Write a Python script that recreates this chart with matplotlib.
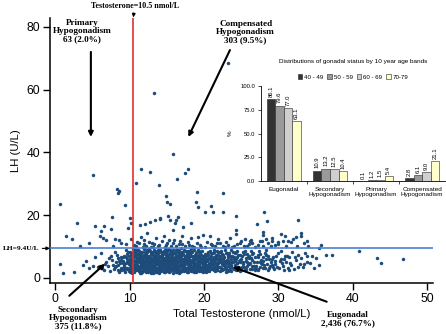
import matplotlib
matplotlib.use("Agg")
import matplotlib.pyplot as plt
import numpy as np

# total testosterone (nmol/L) vs LH (U/L), one pair per man: "tt lh"
cloud = """
6.3 3.1 6.7 4.4 6.5 2.6 6.9 5.2
7.1 3.8 7.4 2.2 7.6 5.6 7.8 4.1 7.3 6.3 7.9 2.9 7.5 7.1
8.0 3.4 8.2 5.0 8.4 2.4 8.5 6.2 8.7 4.6 8.9 3.0 8.3 7.4 8.6 1.9 8.8 5.7 8.1 8.3 8.4 4.0 8.9 6.8
9.0 2.7 9.1 5.3 9.2 3.9 9.3 7.0 9.4 1.8 9.5 4.8 9.6 6.1 9.7 3.2 9.8 8.1 9.9 2.3 9.1 6.7 9.3 4.3
9.5 8.8 9.6 2.9 9.8 5.5 9.2 3.6 9.7 7.6 9.9 4.5
10.0 3.3 10.1 6.0 10.2 2.1 10.3 4.7 10.4 7.8 10.5 3.0 10.6 5.4 10.7 8.9 10.8 2.5 10.9 6.6 10.1 4.2
10.2 7.2 10.3 1.7 10.4 5.8 10.6 3.7 10.7 6.9 10.8 4.9 10.9 2.9 10.0 8.4 10.5 9.1 10.6 1.9 10.3 3.6
10.8 7.5 10.9 5.1
11.0 4.0 11.1 2.4 11.2 6.3 11.3 8.6 11.4 3.1 11.5 5.0 11.6 7.4 11.7 1.8 11.8 4.5 11.9 6.8 11.0 9.0
11.1 5.6 11.2 2.8 11.3 4.9 11.4 7.9 11.5 3.5 11.6 6.0 11.7 8.3 11.8 2.2 11.9 3.9 11.2 5.3 11.4 1.6
11.6 4.3 11.8 7.1 11.1 3.3 11.3 6.5 11.7 5.8 11.9 9.2
12.0 2.6 12.1 5.1 12.2 7.7 12.3 3.4 12.4 6.2 12.5 1.9 12.6 4.4 12.7 8.5 12.8 2.9 12.9 5.9 12.0 6.9
12.1 3.0 12.2 4.7 12.3 8.9 12.4 2.3 12.5 5.5 12.6 7.1 12.7 3.8 12.8 6.6 12.9 1.7 12.1 8.1 12.3 5.7
12.5 3.6 12.7 4.9 12.9 7.5 12.2 2.0 12.4 4.1 12.6 9.1 12.8 5.0 12.0 4.3
13.0 5.6 13.1 2.2 13.2 7.3 13.3 4.0 13.4 8.7 13.5 3.2 13.6 6.4 13.7 1.8 13.8 4.8 13.9 7.0 13.0 3.5
13.1 6.1 13.2 2.7 13.3 5.2 13.4 4.4 13.5 8.0 13.6 2.5 13.7 5.9 13.8 7.8 13.9 3.7 13.1 4.6 13.3 9.0
13.5 6.8 13.7 3.0 13.9 5.4 13.2 1.6 13.4 6.0 13.6 8.4 13.8 2.1 13.0 7.6
14.0 3.9 14.1 6.7 14.2 2.3 14.3 5.3 14.4 8.2 14.5 4.1 14.6 1.9 14.7 6.3 14.8 3.4 14.9 7.4 14.0 5.0
14.1 8.9 14.2 4.5 14.3 2.8 14.4 6.0 14.5 7.7 14.6 3.1 14.7 5.6 14.8 9.0 14.9 2.5 14.1 4.2 14.3 7.1
14.5 5.8 14.7 2.0 14.9 4.8 14.2 6.5 14.4 3.6 14.6 8.5 14.8 5.2 14.0 1.7
15.0 4.7 15.1 2.1 15.2 6.9 15.3 3.5 15.4 8.0 15.5 5.4 15.6 2.7 15.7 7.2 15.8 4.0 15.9 6.1 15.0 8.6
15.1 3.8 15.2 5.1 15.3 1.8 15.4 4.4 15.5 7.6 15.6 3.0 15.7 5.7 15.8 8.8 15.9 2.4 15.1 6.4 15.3 4.9
15.5 2.2 15.7 3.3 15.9 7.9 15.2 9.1 15.4 6.2 15.6 4.6 15.8 1.6 15.0 5.9
16.0 3.2 16.1 6.6 16.2 4.3 16.3 8.4 16.4 2.0 16.5 5.5 16.6 7.3 16.7 3.7 16.8 6.0 16.9 2.6 16.0 7.9
16.1 4.8 16.2 1.9 16.3 5.9 16.4 3.9 16.5 8.9 16.6 2.4 16.7 6.7 16.8 4.5 16.9 5.2 16.2 7.0 16.4 6.3
16.6 3.4 16.8 8.2 16.1 2.8 16.3 4.1 16.7 1.7 16.9 7.6
17.0 5.1 17.1 2.5 17.2 7.7 17.3 4.2 17.4 6.4 17.5 3.0 17.6 8.6 17.7 4.9 17.8 1.9 17.9 6.1 17.0 3.6
17.1 8.1 17.2 5.6 17.3 2.2 17.4 4.6 17.5 7.1 17.6 3.3 17.7 6.8 17.8 5.3 17.9 2.8 17.1 4.0 17.3 9.0
17.5 5.8 17.7 2.0 17.9 7.4 17.2 3.9 17.6 6.2 17.8 4.4
18.0 6.5 18.1 3.1 18.2 5.0 18.3 8.3 18.4 2.3 18.5 4.7 18.6 7.0 18.7 3.8 18.8 5.9 18.9 2.0 18.0 4.1
18.1 7.6 18.2 2.7 18.3 5.4 18.4 6.9 18.5 3.4 18.6 8.8 18.7 4.5 18.8 2.5 18.9 6.3 18.2 9.1 18.4 4.9
18.6 1.8 18.8 7.3 18.1 5.7 18.9 3.7
19.0 2.9 19.1 5.8 19.2 4.0 19.3 7.4 19.4 2.2 19.5 6.1 19.6 3.5 19.7 8.5 19.8 4.7 19.9 1.9 19.0 6.8
19.1 3.2 19.2 5.2 19.3 2.6 19.4 4.4 19.5 7.9 19.6 5.5 19.7 3.0 19.8 6.4 19.9 4.2 19.2 8.9 19.4 3.8
19.6 2.1 19.8 5.0
20.0 4.6 20.1 7.1 20.2 2.4 20.3 5.6 20.4 3.3 20.5 8.2 20.6 4.1 20.7 6.2 20.8 2.8 20.9 5.0 20.0 3.0
20.1 6.6 20.2 4.9 20.3 1.8 20.4 7.5 20.5 3.7 20.6 5.9 20.7 2.2 20.8 8.7 20.9 4.3 20.3 6.9 20.7 3.9
21.0 5.3 21.1 2.7 21.2 7.8 21.3 3.9 21.4 6.0 21.5 2.1 21.6 4.8 21.7 8.5 21.8 3.3 21.9 5.7 21.1 4.3
21.3 6.7 21.5 3.6 21.7 2.4 21.9 7.2 21.2 5.1 21.4 9.0 21.6 2.9 21.8 6.3 21.0 4.0
22.0 3.4 22.1 6.2 22.2 2.3 22.3 5.0 22.4 7.6 22.5 4.2 22.6 2.7 22.7 6.8 22.8 3.9 22.9 5.5 22.1 8.4
22.3 3.1 22.5 5.9 22.7 4.5 22.9 2.0 22.2 7.0 22.6 4.9 22.8 8.9
23.0 4.7 23.1 2.6 23.2 6.5 23.3 3.7 23.4 8.0 23.5 5.2 23.6 2.2 23.7 4.1 23.8 6.9 23.9 3.3 23.1 5.6
23.3 7.3 23.5 3.0 23.7 8.8 23.9 5.0 23.4 4.4
24.0 3.1 24.1 5.9 24.2 7.9 24.3 2.5 24.4 4.6 24.5 6.6 24.6 3.6 24.7 5.3 24.8 2.2 24.9 7.2 24.2 4.0
24.5 8.6 24.7 3.0 24.9 5.0
25.0 6.0 25.1 3.4 25.3 4.8 25.4 7.5 25.5 2.6 25.6 5.5 25.8 3.9 25.9 6.8 25.2 8.3 25.7 2.9 25.3 4.3
25.8 5.2
26.0 4.5 26.2 2.8 26.3 6.3 26.5 3.7 26.6 8.0 26.7 5.1 26.9 3.2 26.1 7.0 26.4 5.8 26.8 2.4
27.0 3.9 27.2 6.5 27.3 2.7 27.5 5.0 27.6 7.7 27.8 4.3 27.9 3.1 27.4 8.6 27.7 5.6
28.0 5.3 28.2 3.0 28.3 7.2 28.5 4.4 28.6 2.5 28.8 6.0 28.9 3.8 28.4 8.9
29.1 4.0 29.3 6.8 29.4 2.9 29.6 5.4 29.8 3.5 29.9 7.9 29.2 5.9
30.1 3.3 30.3 6.1 30.5 4.6 30.7 2.4 30.9 7.0 30.4 8.5
31.0 5.0 31.3 3.2 31.5 6.6 31.7 4.1 31.9 8.2
32.1 2.8 32.4 5.7 32.6 7.4 32.9 4.4
33.1 6.3 33.3 3.6 33.6 8.0 33.8 5.0
34.2 4.7 34.5 7.1 34.8 3.0
35.1 6.4 35.4 4.2
"""

# second pass over the crowded 8-34 nmol/L stretch
cloud_more = """
8.2 3.7 8.6 5.3 8.8 2.6
9.1 4.6 9.3 2.4 9.5 6.5 9.7 5.1 9.9 7.0 9.4 3.3
10.0 5.0 10.1 2.8 10.2 8.0 10.3 6.3 10.4 2.4 10.5 4.4 10.6 7.0 10.7 3.2 10.8 5.7 10.9 8.6
10.1 1.9 10.4 6.8 10.7 4.0 10.9 3.5 10.2 5.5 10.6 8.2
11.0 6.1 11.1 7.5 11.2 3.9 11.3 2.1 11.4 5.6 11.5 8.1 11.6 2.6 11.7 4.7 11.8 6.2 11.9 2.9
11.0 3.0 11.3 7.2 11.5 4.1 11.7 6.6 11.9 5.0 11.2 8.8 11.6 1.7 11.8 3.6
12.0 7.4 12.1 4.0 12.2 6.0 12.3 2.2 12.4 8.3 12.5 4.6 12.6 2.8 12.7 6.3 12.8 3.7 12.9 8.1
12.0 5.4 12.2 3.3 12.4 7.0 12.6 5.9 12.8 2.1 12.1 6.6 12.5 8.8 12.9 4.1
13.0 2.4 13.1 8.3 13.2 4.9 13.3 6.9 13.4 2.0 13.5 5.0 13.6 7.2 13.7 4.3 13.8 6.0 13.9 2.7
13.0 4.4 13.2 6.3 13.4 3.4 13.6 5.3 13.8 8.9 13.1 3.7 13.5 1.9 13.9 8.5
14.0 7.1 14.1 2.6 14.2 8.1 14.3 4.3 14.4 2.4 14.5 6.2 14.6 4.7 14.7 8.3 14.8 2.9 14.9 5.9
14.0 3.1 14.2 5.6 14.4 7.6 14.6 6.0 14.8 4.1 14.1 5.2 14.5 3.0 14.9 8.8
15.0 3.1 15.1 7.7 15.2 2.6 15.3 6.1 15.4 2.9 15.5 4.2 15.6 8.3 15.7 5.0 15.8 3.2 15.9 4.9
15.0 6.9 15.2 4.0 15.4 5.3 15.6 6.7 15.8 6.3 15.1 5.2 15.5 8.9 15.9 3.7
16.0 5.4 16.1 3.6 16.2 8.9 16.3 2.7 16.4 6.9 16.5 3.1 16.6 5.4 16.7 8.0 16.8 2.0 16.9 4.3
16.0 2.4 16.2 5.8 16.4 4.6 16.6 8.6 16.8 7.1 16.3 7.4 16.5 2.2 16.9 6.2
17.0 7.3 17.1 5.9 17.2 2.9 17.3 6.0 17.4 8.5 17.5 4.4 17.6 2.4 17.7 7.6 17.8 3.5 17.9 4.9
17.0 2.3 17.2 4.8 17.4 3.1 17.6 5.1 17.8 8.0 17.3 3.4 17.5 6.6 17.9 8.7
18.0 2.9 18.1 4.5 18.2 7.0 18.3 3.1 18.4 8.1 18.5 5.9 18.6 2.9 18.7 6.6 18.8 4.0 18.9 8.0
18.0 8.7 18.2 3.8 18.4 5.3 18.6 4.2 18.8 6.8 18.3 2.1 18.7 5.2
19.0 4.6 19.1 7.1 19.2 2.5 19.3 5.0 19.4 6.5 19.5 3.3 19.6 7.4 19.7 5.3 19.8 2.7 19.9 6.9
19.1 8.3 19.3 3.9 19.5 5.6 19.7 2.3 19.9 4.0 19.4 8.7
20.0 6.1 20.1 3.9 20.2 7.7 20.3 4.0 20.4 5.4 20.5 2.7 20.6 7.2 20.7 4.8 20.8 6.1 20.9 3.0
20.1 5.1 20.5 6.0 20.9 7.9 20.4 2.3
21.0 7.0 21.1 6.0 21.2 3.0 21.3 8.2 21.4 4.6 21.5 5.8 21.6 7.4 21.7 4.1 21.8 2.5 21.9 4.6
21.3 2.4 21.6 6.3 21.9 8.3
22.0 5.0 22.1 3.6 22.2 5.6 22.3 8.6 22.4 2.6 22.5 7.3 22.6 6.3 22.7 2.9 22.8 5.3 22.9 7.8
22.4 4.5 22.8 3.1
23.0 3.0 23.1 7.9 23.2 4.6 23.3 5.8 23.4 2.6 23.5 7.0 23.6 6.1 23.7 3.6 23.8 4.9 23.9 8.2 23.2 2.1
24.0 6.8 24.1 2.9 24.2 5.3 24.3 8.2 24.4 3.5 24.5 4.6 24.6 7.3 24.8 5.7 24.9 3.2 24.3 6.0
25.0 2.6 25.2 5.1 25.4 3.6 25.5 8.7 25.6 6.4 25.8 7.5 25.9 4.4 25.1 7.1
26.0 6.2 26.2 4.6 26.4 7.6 26.5 2.7 26.7 3.9 26.9 6.6 26.3 8.7
27.1 5.1 27.3 7.3 27.5 3.4 27.7 4.6 27.9 6.8 27.2 2.4
28.1 4.2 28.3 5.9 28.6 6.9 28.8 3.3 28.2 8.0
29.0 5.0 29.5 4.3 29.7 7.0 29.3 3.6
30.2 5.3 30.6 3.7 30.8 6.1
31.2 7.1 31.6 4.8 31.4 2.5
32.3 6.5 32.7 3.5
33.5 4.5 33.9 6.9
"""

scattered = """
0.6 23.7 5.1 32.8 8.3 28.2 8.6 27.8 8.5 27.0 9.4 23.1 10.8 30.2 11.6 34.7 12.8 33.7 13.9 29.6
14.9 26.0 15.1 24.3 15.4 23.6 15.8 39.5 16.4 31.4 17.4 33.3 17.9 34.7 19.1 27.3 18.9 24.1 19.2 22.5
20.2 21.1 21.0 23.0 21.2 21.1 22.5 26.9 22.5 21.1 24.3 19.8 28.1 21.0 28.5 18.2 27.1 17.2 32.7 18.3
13.3 59.0 23.3 68.4
3.0 17.4 7.6 19.3 5.4 16.6 6.6 16.6 6.2 15.0 7.5 15.6 10.0 19.0 10.2 17.4 9.8 16.0 1.5 13.2
2.3 12.4 4.6 11.2 6.0 13.2 6.4 12.7 6.9 12.1 8.6 12.1 8.1 12.5 3.4 10.2
0.7 4.5 1.1 1.7 2.5 2.0 3.7 4.1 4.6 3.3 5.1 3.8 5.7 3.4 4.2 5.5 5.4 6.8 6.1 8.0
11.4 16.9 12.1 17.2 12.8 17.9 13.4 18.3 14.1 18.7 15.4 18.5 16.3 18.5 16.5 19.5
14.1 19.0 15.2 19.7 16.1 17.4 17.2 16.3 18.3 17.4 15.9 15.3 17.0 13.2 18.3 12.6 19.2 13.0 19.9 13.6
20.8 13.2 21.9 12.3 23.5 12.6
24.3 15.1 24.3 14.0 25.5 12.3 26.3 12.1 27.5 11.8 28.4 12.3 29.1 12.6 30.4 14.0 30.9 13.2 31.3 11.9
32.0 12.3 32.4 12.9 33.0 14.2 33.1 13.4 27.9 14.7 27.9 13.7
26.2 11.8 27.8 11.6 29.2 11.8 29.9 11.4 30.6 11.8 31.7 11.5 33.4 11.2 33.8 11.8 35.8 10.4 35.4 9.6
36.4 7.3 37.2 7.3 40.8 8.6 43.2 6.4 43.8 4.8 46.8 6.0
11.0 11.5 11.5 13.0 12.0 12.0 12.4 14.2 13.0 11.0 13.5 12.6 14.0 10.5 14.6 13.4 15.0 11.2 16.0 12.0
16.6 10.8 12.2 10.3 13.8 10.2 10.6 10.6 10.2 12.3 9.5 10.8 8.8 11.0 7.8 10.1
17.5 10.1 18.0 10.6 18.7 9.9 19.5 10.4 20.2 9.8 20.9 10.9 21.5 10.2 22.2 11.0 22.8 9.9 23.2 10.5
24.0 10.1 24.8 11.2 25.4 10.0 26.0 10.7 26.8 9.8 28.0 10.3 29.0 10.0 30.0 10.8 31.0 10.1 32.5 10.3
34.0 10.0 11.8 9.8 13.2 9.7 14.8 9.9 15.6 10.3 16.9 9.6
10.9 10.2 11.3 11.0 11.9 10.7 12.6 11.4 12.9 9.9 13.3 10.8 14.3 11.6 14.9 10.4 15.3 12.2 15.8 11.0
16.3 10.1 16.8 11.6 17.1 10.9 17.8 11.3 18.4 10.2 19.0 11.1 19.6 9.9 20.4 11.5 21.1 10.4 21.7 11.2
22.5 10.3 23.0 11.4 23.8 9.9 24.4 10.8 25.0 11.6 25.8 10.3 26.5 11.0 27.3 10.5 28.6 11.1 29.5 10.4
"""

pairs = np.array((cloud + cloud_more + scattered).split(), dtype=float).reshape(-1, 2)
tt = pairs[:, 0]
lh = pairs[:, 1]

tt_cut = 10.5
lh_cut = 9.4

# inset: % in each gonadal group by age band
groups = ["Eugonadal", "Secondary\nHypogonadism", "Primary\nHypogonadism", "Compensated\nHypogonadism"]
bands = ["40 - 49", "50 - 59", "60 - 69", "70-79"]
pct_40 = [86.1, 10.9, 0.1, 2.8]
pct_50 = [79.6, 13.2, 1.2, 6.1]
pct_60 = [77.0, 12.5, 1.5, 9.0]
pct_70 = [63.1, 10.4, 5.4, 21.1]
band_colors = ["#333333", "#9a9a9a", "#cfcfcf", "#ffffcc"]

serif = ["Liberation Serif", "DejaVu Serif"]
plt.rcParams["font.family"] = ["Liberation Sans", "DejaVu Sans"]

fig = plt.figure(figsize=(4.46, 3.34), dpi=100)
ax = fig.add_axes([0.112, 0.153, 0.859, 0.793])

ax.plot(tt, lh, "o", color="#1d4c7a", markersize=2.5, markeredgewidth=0, zorder=2)
ax.axvline(tt_cut, color="#e0302f", lw=1.2, zorder=3)
ax.axhline(lh_cut, color="#4a7fd6", lw=1.2, zorder=3)

ax.set_xlim(-0.7, 50.8)
ax.set_ylim(-1.6, 82.8)
ax.set_xticks([0, 10, 20, 30, 40, 50])
ax.set_yticks([0, 20, 40, 60, 80])
ax.tick_params(labelsize=8.8, length=5, width=1, direction="out", pad=2)
for s in ["top", "right"]:
    ax.spines[s].set_visible(False)
for s in ["left", "bottom"]:
    ax.spines[s].set_linewidth(1.1)
ax.set_xlabel("Total Testosterone (nmol/L)", fontsize=8.2, labelpad=3)
ax.set_ylabel("LH (U/L)", fontsize=8.2, labelpad=4)

arrow = dict(arrowstyle="-|>", color="black", lw=1.5, mutation_scale=7, shrinkA=0, shrinkB=0)
txt = dict(fontfamily=serif, fontweight="bold", fontsize=6.6, ha="center", va="center",
           linespacing=1.05, annotation_clip=False)

ax.annotate("Primary\nHypogonadism\n63 (2.0%)", xy=(3.6, 78.7), **txt)
ax.annotate("", xy=(4.8, 44.9), xytext=(4.8, 72.0), arrowprops=arrow, annotation_clip=False)
ax.annotate("Compensated\nHypogonadism\n303 (9.5%)", xy=(25.6, 78.3), **txt)
ax.annotate("", xy=(17.9, 44.9), xytext=(23.5, 72.6), arrowprops=arrow, annotation_clip=False)
ax.annotate("Secondary\nHypogonadism\n375 (11.8%)", xy=(3.1, -12.9), **txt)
ax.annotate("", xy=(6.7, 4.5), xytext=(1.9, -5.7), arrowprops=arrow, annotation_clip=False)
ax.annotate("Eugonadal\n2,436 (76.7%)", xy=(39.3, -13.2), **txt)
ax.annotate("", xy=(23.9, 3.5), xytext=(36.5, -7.6), arrowprops=arrow, annotation_clip=False)

small_arrow = dict(arrowstyle="-|>", color="black", lw=0.8, mutation_scale=5, shrinkA=0, shrinkB=0)
ax.annotate("Testosterone=10.5 nmol/L", xy=(tt_cut, 83.0), xytext=(tt_cut + 0.2, 86.6),
            fontfamily=serif, fontweight="bold", fontsize=5.8, ha="center", va="center",
            arrowprops=small_arrow, annotation_clip=False)
ax.annotate("LH=9.4U/L", xy=(-0.7, lh_cut), xytext=(-2.1, lh_cut),
            fontfamily=serif, fontweight="bold", fontsize=5.3, ha="right", va="center",
            arrowprops=small_arrow, annotation_clip=False)

# inset bar chart
ax_in = fig.add_axes([0.585, 0.458, 0.413, 0.284])
ax_in.set_facecolor("white")
x = np.arange(len(groups))
w = 0.185
series = [pct_40, pct_50, pct_60, pct_70]
for i, (vals, col, lab) in enumerate(zip(series, band_colors, bands)):
    pos = x + (i - 1.5) * w
    ax_in.bar(pos, vals, w, color=col, edgecolor="#222222", linewidth=0.4, label=lab)
    for p, v in zip(pos, vals):
        ax_in.text(p, v + 2.5, f"{v:.1f}", rotation=90, ha="center", va="bottom", fontsize=4.2)

ax_in.set_xlim(-0.5, 3.5)
ax_in.set_ylim(0, 100)
ax_in.set_yticks([0, 25, 50, 75, 100])
ax_in.set_yticklabels([f"{t:.1f}" for t in [0, 25, 50, 75, 100]])
ax_in.set_xticks(x)
ax_in.set_xticklabels(groups, fontsize=4.6, linespacing=1.1)
ax_in.set_xticks([0.5, 1.5, 2.5], minor=True)
ax_in.tick_params(axis="x", which="major", length=0, pad=4)
ax_in.tick_params(axis="x", which="minor", length=2, width=0.5)
ax_in.tick_params(axis="y", labelsize=4.2, length=2, width=0.5, pad=2)
for s in ["top", "right"]:
    ax_in.spines[s].set_visible(False)
for s in ["left", "bottom"]:
    ax_in.spines[s].set_linewidth(0.6)
ax_in.set_ylabel("%", fontsize=4.5, labelpad=6)
ax_in.set_title("Distributions of gonadal status by 10 year age bands", fontsize=4.6, pad=17)
ax_in.legend(ncol=4, loc="lower center", bbox_to_anchor=(0.5, 1.04), frameon=False,
             fontsize=4.4, handlelength=0.8, handleheight=0.8, columnspacing=0.6,
             handletextpad=0.3, borderaxespad=0)

fig.savefig("out.png", dpi=100)
